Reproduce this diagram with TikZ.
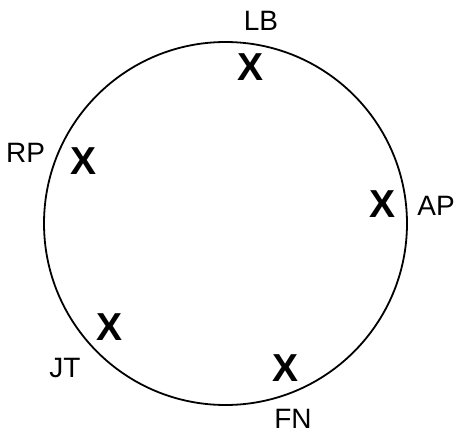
\documentclass[tikz,border=0pt]{standalone}
\usepackage{fontspec}
\setmainfont{Liberation Sans}
\usetikzlibrary{positioning}
\tikzstyle{ring} = [draw, circle, line width=1.8pt, minimum size=363pt,
inner sep=0pt]
\tikzstyle{cross} = [font=\fontsize{39}{39}\selectfont\bfseries, inner sep=0pt]
\tikzstyle{tag} = [font=\fontsize{28}{28}\selectfont, inner sep=0pt]

\begin{document}
\begin{tikzpicture}[x=1pt, y=-1pt]
    \useasboundingbox (0,0) rectangle (456,434);
    \node [ring] (R) at (225.5,223.5) {};
	%% Crosses
    \node [cross] (xLB) at (251,67.5) {X};
    \node [cross] (xRP) at (83.5,161) {X};
    \node [cross] (xAP) at (382.5,204.5) {X};
    \node [cross] (xJT) at (109.5,327.5) {X};
    \node [cross] (xFN) at (286,368.5) {X};
	%% Names
    \node [tag] (LB) at (261,21) {LB};
    \node [tag] (RP) at (25.5,153) {RP};
    \node [tag] (AP) at (436,206) {AP};
    \node [tag] (JT) at (65,368.5) {JT};
    \node [tag] (FN) at (293,418.5) {FN};
\end{tikzpicture}
\end{document}
